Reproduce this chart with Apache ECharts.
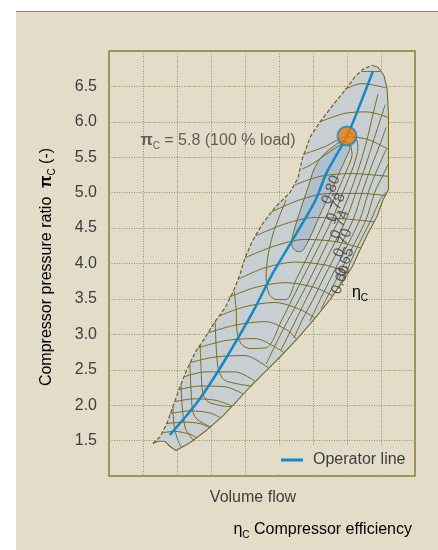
<!DOCTYPE html>
<html>
<head>
<meta charset="utf-8">
<script src="https://cdn.jsdelivr.net/npm/echarts@6/dist/echarts.min.js"></script>
<style>
  html, body { margin: 0; padding: 0; background: #ffffff; }
  #panel { position: absolute; left: 16px; top: 11px; width: 422px; height: 539px;
           background: #e2dcc9; border-top: 1.5px solid #9b8c55; }
  #chart { position: absolute; left: 0; top: 0; width: 438px; height: 550px; }
</style>
</head>
<body>
<div id="panel"></div>
<div id="chart"></div>
<script>
// Compressor map: volume flow (x, arbitrary units) vs. pressure ratio pi_C (y)

// Surge line (left boundary), from low flow upwards
const surgeLine = [[1.29,1.46],[1.50,1.55],[1.71,1.75],[1.88,1.98],[2.09,2.26],[2.26,2.47],[2.53,2.74],
  [2.82,2.95],[3.12,3.18],[3.41,3.37],[3.65,3.60],[3.85,3.84],[4.00,4.08],[4.21,4.31],[4.50,4.55],
  [4.88,4.79],[5.32,5.00],[5.56,5.21],[5.68,5.47],[5.91,5.78],[6.21,6.00],[6.59,6.24],[7.00,6.48],
  [7.24,6.64],[7.47,6.74],[7.74,6.80]];

// Choke / maximum speed boundary, from the top back down to the low end
const chokeLine = [[7.74,6.80],[7.91,6.77],[8.09,6.65],[8.18,6.46],[8.22,6.10],[8.22,5.04],[8.06,4.90],
  [7.88,4.66],[7.62,4.43],[7.38,4.19],[7.15,3.95],[6.85,3.73],[6.50,3.49],[6.06,3.23],[5.56,2.95],
  [5.03,2.68],[4.59,2.47],[4.15,2.26],[3.79,2.07],[3.35,1.85],[2.88,1.65],[2.38,1.47],[1.97,1.36],
  [1.79,1.42],[1.65,1.49],[1.44,1.49],[1.29,1.46]];

// Best-efficiency island (eta_C >= 0.80)
const peakIsland = [[5.53,4.17],[5.38,4.25],[5.41,4.41],[5.56,4.65],[5.71,4.87],[5.88,5.11],[6.03,5.33],
  [6.26,5.51],[6.59,5.65],[6.88,5.73],[7.09,5.66],[6.97,5.49],[6.79,5.30],[6.59,5.08],[6.38,4.87],
  [6.18,4.66],[6.00,4.46],[5.82,4.28],[5.68,4.18]];

// Operating line of the compressor
const operatorLine = [[1.79,1.58],[2.58,2.03],[3.17,2.45],[3.76,2.92],[4.29,3.37],[4.79,3.84],
  [5.37,4.31],[6.06,4.88],[6.40,5.28],[7.00,5.80],[7.38,6.24],[7.76,6.71]];

// Full-load operating point
const fullLoadPoint = [7.0, 5.8];

// Speed lines
const speedLines = [
  [[1.56,1.61],[1.94,1.63],[2.38,1.59],[2.59,1.54]],
  [[1.68,1.74],[2.24,1.76],[2.68,1.74],[2.97,1.68]],
  [[1.79,1.88],[2.38,1.92],[2.97,1.89],[3.29,1.82]],
  [[1.93,2.05],[2.53,2.09],[3.12,2.07],[3.62,1.99]],
  [[2.06,2.22],[2.68,2.27],[3.41,2.26],[3.94,2.16]],
  [[2.21,2.40],[2.82,2.47],[3.71,2.47],[4.29,2.34]],
  [[2.38,2.60],[3.12,2.68],[4.00,2.70],[4.68,2.53]],
  [[2.62,2.81],[3.41,2.91],[4.29,2.94],[5.15,2.74]],
  [[2.91,3.02],[3.71,3.13],[4.59,3.18],[5.24,3.06],[5.53,2.92]],
  [[3.24,3.26],[4.00,3.39],[4.88,3.45],[5.62,3.35],[6.06,3.23]],
  [[3.51,3.52],[4.29,3.66],[5.18,3.73],[6.06,3.66],[6.59,3.54]],
  [[3.81,3.78],[4.59,3.94],[5.47,4.02],[6.35,3.98],[7.00,3.88]],
  [[4.00,4.08],[4.88,4.25],[5.76,4.34],[6.65,4.31],[7.41,4.22]],
  [[4.31,4.39],[5.18,4.56],[6.06,4.65],[6.94,4.63],[7.79,4.59]],
  [[4.79,4.73],[5.62,4.90],[6.50,4.99],[7.38,4.99],[8.12,4.96]],
  [[5.47,5.11],[6.21,5.23],[7.09,5.27],[8.22,5.23]],
  [[5.71,5.54],[6.35,5.65],[7.00,5.79],[7.62,5.75],[8.22,5.61]],
  [[6.21,6.00],[6.94,6.12],[7.59,6.14],[8.22,6.06]],
  [[6.94,6.46],[7.44,6.54],[8.15,6.48]],
  [[7.44,6.71],[7.97,6.71]]
];

// Efficiency contours around the island, outwards
const efficiencyLines = [
  [[5.21,4.90],[5.03,4.69],[4.82,4.41],[4.68,4.12],[4.62,3.80],[4.71,3.57],[4.91,3.49],[5.21,3.49],
   [5.50,3.77],[5.79,4.05],[6.15,4.41],[6.35,4.62],[6.74,5.04],[7.00,5.33],[7.15,5.54],[7.09,5.71]],
  [[3.68,3.61],[3.74,3.35],[3.76,3.06],[3.88,2.87],[4.15,2.80],[4.62,2.81],[5.09,3.21],[5.38,3.49],
   [5.82,3.91],[6.12,4.19],[6.56,4.62],[6.91,5.04],[7.21,5.40],[7.32,5.64],[7.26,5.78],[7.09,5.85]],
  [[4.62,2.58],[5.09,3.04],[5.59,3.49],[5.97,3.84],[6.32,4.19],[6.76,4.62],[7.12,5.04],[7.38,5.40],
   [7.59,5.75],[7.76,6.10],[7.91,6.39]],
  [[5.06,2.78],[5.38,3.09],[5.79,3.49],[6.15,3.83],[6.53,4.19],[6.97,4.62],[7.29,5.04],[7.56,5.40],
   [7.79,5.75],[8.00,6.06],[8.12,6.24]],
  [[5.44,2.95],[5.71,3.23],[6.00,3.49],[6.35,3.83],[6.74,4.19],[7.18,4.62],[7.47,5.04],[7.74,5.40],
   [7.97,5.68],[8.15,5.92]],
  [[5.91,3.19],[6.21,3.49],[6.56,3.83],[6.94,4.19],[7.38,4.62],[7.65,5.04],[7.91,5.35],[8.15,5.61]],
  [[6.24,3.36],[6.68,3.77],[7.12,4.19],[7.56,4.62],[7.82,5.01],[8.06,5.25],[8.21,5.40]],
  [[6.71,3.63],[6.94,3.84],[7.26,4.19],[7.71,4.62],[7.97,4.90],[8.15,5.01]],
  [[3.12,3.18],[3.15,2.85],[3.21,2.53],[3.38,2.36],[3.79,2.30],[4.18,2.27]],
  [[2.68,2.85],[2.71,2.50],[2.76,2.17],[2.91,2.05],[3.32,1.99],[3.59,1.98]],
  [[2.38,2.60],[2.41,2.24],[2.47,1.90],[2.62,1.79],[3.00,1.69]],
  [[2.12,2.29],[2.15,2.00],[2.24,1.68],[2.38,1.57],[2.50,1.49]],
  [[1.88,1.98],[1.91,1.72],[2.00,1.54],[2.12,1.41]],
  [[6.82,5.68],[6.41,5.55],[6.03,5.42],[5.68,5.33]]
];

// Efficiency contour labels: value and where the label sits
const efficiencyLevels = [0.80, 0.78, 0.74, 0.70, 0.65, 0.60];
const efficiencyLabelAt = [[6.53,5.04],[6.68,4.79],[6.79,4.55],[6.88,4.29],[6.94,4.02],[6.82,3.77]];

const FONT = '"Liberation Sans", Arial, Helvetica, sans-serif';
const TEXT = '#3d3d3d';
const OLIVE = '#7a6a22';

const chart = echarts.init(document.getElementById('chart'), null, { renderer: 'canvas' });

function polygon(pts, fill, stroke, z, smooth) {
  return {
    type: 'custom', coordinateSystem: 'cartesian2d', silent: true, z: z, clip: true,
    data: [pts[0]],
    renderItem: function (params, api) {
      return {
        type: 'polygon',
        shape: { points: pts.map(function (p) { return api.coord(p); }), smooth: smooth || 0 },
        style: { fill: fill, stroke: stroke || null, lineWidth: stroke ? 1 : 0 }
      };
    }
  };
}

function curve(pts, z, extra) {
  return Object.assign({
    type: 'line', data: pts, showSymbol: false, symbol: 'none', smooth: 0.3, silent: true, z: z,
    lineStyle: { color: OLIVE, width: 1 }
  }, extra || {});
}

const series = [];
series.push(polygon(surgeLine.concat(chokeLine.slice(1)), '#c8cfd3', null, 1));
series.push(polygon(peakIsland, '#aebfcd', OLIVE, 2, 0.35));
speedLines.forEach(function (l) { series.push(curve(l, 3)); });
efficiencyLines.forEach(function (l) { series.push(curve(l, 3)); });
series.push(curve(surgeLine, 4, { smooth: false, lineStyle: { color: '#6e5f1c', width: 1.2, type: [4, 2] } }));
series.push(curve(chokeLine, 4, { smooth: false, lineStyle: { color: OLIVE, width: 1.1 } }));
series.push({
  name: 'Operator line', type: 'line', data: operatorLine, showSymbol: false, symbol: 'none',
  smooth: 0.3, z: 6, silent: true, color: '#1a87c5',
  lineStyle: { color: '#1a87c5', width: 2.5 }
});
series.push({
  type: 'scatter', data: [fullLoadPoint], z: 8, symbolSize: 19, silent: true,
  itemStyle: { color: '#ef7a00', borderColor: '#1a87c5', borderWidth: 2 },
  label: {
    show: true, position: 'left', distance: 41, offset: [0, 5],
    formatter: function (p) { return '{pi|\u03c0}{sub|C}{t| = ' + p.value[1].toFixed(1) + ' (100 % load)}'; },
    rich: {
      pi: { fontSize: 16, fontWeight: 'bold', color: TEXT, fontFamily: FONT, lineHeight: 20 },
      sub: { fontSize: 10, color: TEXT, fontFamily: FONT, verticalAlign: 'bottom', lineHeight: 11 },
      t: { fontSize: 16, color: TEXT, fontFamily: FONT, lineHeight: 20 }
    }
  }
});
series.push({
  type: 'scatter', z: 7, symbolSize: 0, silent: true,
  data: efficiencyLabelAt.map(function (p, i) { return [p[0], p[1], efficiencyLevels[i]]; }),
  label: {
    show: true, position: 'inside', rotate: 70, fontSize: 15, color: TEXT, fontFamily: FONT,
    formatter: function (p) { return p.value[2].toFixed(2); }
  }
});

const option = {
  animation: false,
  backgroundColor: 'transparent',
  grid: { left: 109, right: 23, top: 51, bottom: 74, show: true, borderColor: '#8b7d3f', borderWidth: 1.5, backgroundColor: 'transparent' },
  xAxis: {
    type: 'value', min: 0, max: 9, interval: 1,
    axisLine: { show: false }, axisTick: { show: false }, axisLabel: { show: false },
    splitLine: { show: true, lineStyle: { color: '#9d9060', width: 1, type: [1, 1.5] } }
  },
  yAxis: {
    type: 'value', min: 1, max: 7, interval: 0.5,
    axisLine: { show: false }, axisTick: { show: false },
    axisLabel: {
      showMinLabel: false, showMaxLabel: false, margin: 12, fontSize: 16, color: TEXT, fontFamily: FONT,
      formatter: function (v) { return v.toFixed(1); }
    },
    splitLine: { show: true, lineStyle: { color: '#9d9060', width: 1, type: [1, 1.5] } }
  },
  legend: {
    data: ['Operator line'], left: 277, top: 446, icon: 'rect', itemWidth: 22, itemHeight: 3,
    padding: [6, 8, 6, 4], backgroundColor: '#e2dcc9',
    textStyle: { fontSize: 16, color: TEXT, fontFamily: FONT, padding: [0, 0, 0, 5] }
  },
  graphic: [
    {
      type: 'text', x: 47, y: 267, rotation: Math.PI / 2, silent: true,
      style: {
        text: '{a|Compressor pressure ratio  }{pi|\u03c0}{sub|C}{a| (-)}',
        align: 'center', verticalAlign: 'middle',
        rich: {
          a: { fontSize: 16, color: TEXT, fontFamily: FONT, lineHeight: 20 },
          pi: { fontSize: 16, fontWeight: 'bold', color: TEXT, fontFamily: FONT, lineHeight: 20 },
          sub: { fontSize: 10, color: TEXT, fontFamily: FONT, verticalAlign: 'bottom', lineHeight: 11 }
        }
      }
    },
    {
      type: 'text', x: 253, y: 498, silent: true,
      style: { text: 'Volume flow', align: 'center', verticalAlign: 'middle', fontSize: 16, fill: TEXT, fontFamily: FONT }
    },
    {
      type: 'text', x: 412, y: 530, silent: true,
      style: {
        text: '{eta|\u03b7}{sub|C}{a| Compressor efficiency}', align: 'right', verticalAlign: 'middle',
        rich: {
          a: { fontSize: 16, color: TEXT, fontFamily: FONT, lineHeight: 20 },
          eta: { fontSize: 16, color: TEXT, fontFamily: FONT, lineHeight: 20 },
          sub: { fontSize: 10, color: TEXT, fontFamily: FONT, verticalAlign: 'bottom', lineHeight: 11 }
        }
      }
    },
    {
      type: 'text', x: 360, y: 293, silent: true, z: 10,
      style: {
        text: '{eta|\u03b7}{sub|C}', align: 'center', verticalAlign: 'middle',
        rich: {
          eta: { fontSize: 16, color: TEXT, fontFamily: FONT, lineHeight: 20 },
          sub: { fontSize: 10, color: TEXT, fontFamily: FONT, verticalAlign: 'bottom', lineHeight: 11 }
        }
      }
    }
  ],
  series: series
};

chart.setOption(option);
</script>
</body>
</html>
